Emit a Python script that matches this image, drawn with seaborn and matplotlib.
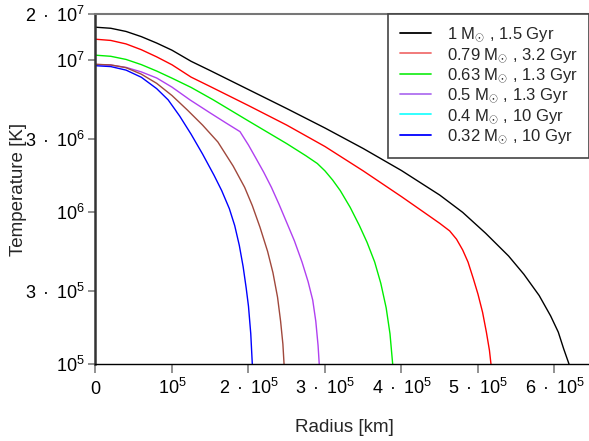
import pandas as pd
import matplotlib.pyplot as plt
import seaborn as sns
from matplotlib.lines import Line2D
from matplotlib.ticker import NullLocator

# Radius in km, temperature in K
r_1 = [0, 0.2e5, 0.4e5, 0.6e5, 0.8e5, 1.0e5, 1.25e5, 1.5e5, 2.0e5, 2.5e5, 3.0e5, 3.5e5, 4.0e5,
       4.5e5, 4.8e5, 5.1e5, 5.4e5, 5.6e5, 5.8e5, 5.95e5, 6.05e5, 6.12e5, 6.19e5]
t_1 = [1.637e7, 1.611e7, 1.535e7, 1.419e7, 1.288e7, 1.156e7, 9.77e6, 8.49e6, 6.37e6, 4.78e6, 3.56e6,
       2.61e6, 1.87e6, 1.29e6, 9.93e5, 7.24e5, 5.13e5, 3.89e5, 2.82e5, 2.07e5, 1.62e5, 1.26e5, 1.0e5]

r_079 = [0, 0.2e5, 0.4e5, 0.6e5, 0.8e5, 1.0e5, 1.25e5, 1.5e5, 2.0e5, 2.5e5, 3.0e5, 3.5e5, 4.0e5,
         4.3e5, 4.5e5, 4.63e5, 4.72e5, 4.8e5, 4.87e5, 4.94e5, 5.0e5, 5.06e5, 5.11e5, 5.15e5, 5.17e5]
t_079 = [1.365e7, 1.340e7, 1.271e7, 1.164e7, 1.045e7, 9.27e6, 7.69e6, 6.67e6, 5.00e6, 3.72e6, 2.69e6,
         1.86e6, 1.26e6, 9.89e5, 8.41e5, 7.50e5, 6.61e5, 5.62e5, 4.68e5, 3.63e5, 2.88e5, 2.19e5,
         1.62e5, 1.23e5, 1.0e5]

r_063 = [0, 0.2e5, 0.4e5, 0.6e5, 0.8e5, 1.0e5, 1.25e5, 1.54e5, 2.0e5, 2.5e5, 2.75e5, 2.9e5, 3.0e5,
         3.1e5, 3.2e5, 3.33e5, 3.45e5, 3.55e5, 3.65e5, 3.73e5, 3.8e5, 3.85e5, 3.885e5]
t_063 = [1.072e7, 1.054e7, 1.005e7, 9.29e6, 8.43e6, 7.57e6, 6.58e6, 5.45e6, 3.96e6, 2.81e6, 2.34e6,
         2.08e6, 1.86e6, 1.62e6, 1.38e6, 1.07e6, 8.13e5, 6.31e5, 4.68e5, 3.39e5, 2.34e5, 1.58e5, 1.0e5]

r_05 = [0, 0.2e5, 0.4e5, 0.6e5, 0.8e5, 1.0e5, 1.235e5, 1.5e5, 1.7e5, 1.889e5, 2.0e5, 2.1e5, 2.2e5,
        2.3e5, 2.4e5, 2.5e5, 2.6e5, 2.7e5, 2.78e5, 2.84e5, 2.88e5, 2.91e5, 2.925e5]
t_05 = [9.33e6, 9.23e6, 8.91e6, 8.32e6, 7.59e6, 6.61e6, 5.45e6, 4.47e6, 3.86e6, 3.37e6, 2.75e6, 2.24e6,
        1.82e6, 1.45e6, 1.12e6, 8.51e5, 6.46e5, 4.68e5, 3.47e5, 2.63e5, 1.91e5, 1.32e5, 1.0e5]

r_04 = [0, 0.2e5, 0.4e5, 0.6e5, 0.8e5, 1.0e5, 1.2e5, 1.4e5, 1.6e5, 1.8e5, 1.95e5, 2.05e5, 2.15e5,
        2.25e5, 2.32e5, 2.38e5, 2.42e5, 2.45e5, 2.465e5]
t_04 = [9.33e6, 9.25e6, 8.87e6, 8.04e6, 7.00e6, 5.82e6, 4.68e6, 3.72e6, 2.88e6, 2.00e6, 1.45e6, 1.10e6,
        7.94e5, 5.50e5, 3.98e5, 2.75e5, 1.91e5, 1.35e5, 1.0e5]

r_032 = [0, 0.2e5, 0.4e5, 0.6e5, 0.8e5, 0.95e5, 1.1e5, 1.25e5, 1.4e5, 1.55e5, 1.65e5, 1.75e5, 1.82e5,
         1.88e5, 1.93e5, 1.97e5, 2.0e5, 2.03e5, 2.05e5]
t_032 = [9.14e6, 9.02e6, 8.55e6, 7.67e6, 6.46e6, 5.45e6, 4.27e6, 3.24e6, 2.40e6, 1.74e6, 1.38e6, 1.05e6,
         8.13e5, 6.03e5, 4.37e5, 3.16e5, 2.40e5, 1.58e5, 1.0e5]

labels = [r'1 M$_{\odot}$ , 1.5 Gyr', r'0.79 M$_{\odot}$ , 3.2 Gyr', r'0.63 M$_{\odot}$ , 1.3 Gyr',
          r'0.5 M$_{\odot}$ , 1.3 Gyr', r'0.4 M$_{\odot}$ , 10 Gyr', r'0.32 M$_{\odot}$ , 10 Gyr']
radii = [r_1, r_079, r_063, r_05, r_04, r_032]
temps = [t_1, t_079, t_063, t_05, t_04, t_032]

curve_colors = ['black', '#ff0000', '#00ee00', '#b040f0', '#a0483c', '#0000ff']
legend_colors = ['black', '#f07070', '#22ee22', '#b070f0', '#22ffff', '#0000ff']

xticks = [0, 1e5, 2e5, 3e5, 4e5, 5e5, 6e5]
xtick_labels = ['0', r'10$^{5}$', r'2$\,$ · $\,$10$^{5}$', r'3$\,$ · $\,$10$^{5}$', r'4$\,$ · $\,$10$^{5}$',
                r'5$\,$ · $\,$10$^{5}$', r'6$\,$ · $\,$10$^{5}$']
yticks = [1e5, 3e5, 1e6, 3e6, 1e7, 2e7]
ytick_labels = [r'10$^{5}$', r'3$\,$ · $\,$10$^{5}$', r'10$^{6}$', r'3$\,$ · $\,$10$^{6}$', r'10$^{7}$',
                r'2$\,$ · $\,$10$^{7}$']

rows = []
for lab, rr, tt in zip(labels, radii, temps):
    for x, y in zip(rr, tt):
        rows.append({'star': lab, 'radius': x, 'temperature': y})
df = pd.DataFrame(rows)

sns.set_style('ticks')
plt.rcParams['font.family'] = ['Liberation Sans', 'DejaVu Sans']
plt.rcParams['mathtext.fontset'] = 'custom'
plt.rcParams['mathtext.rm'] = 'Liberation Sans'
plt.rcParams['mathtext.it'] = 'Liberation Sans:italic'
plt.rcParams['mathtext.bf'] = 'Liberation Sans:bold'

fig = plt.figure(figsize=(5.89, 4.41), dpi=100)
ax = fig.add_axes([0.1621, 0.1746, 0.8442, 0.7937])

sns.lineplot(data=df, x='radius', y='temperature', hue='star', palette=curve_colors,
             estimator=None, sort=False, legend=False, linewidth=1.0, ax=ax)

ax.set_yscale('log')
ax.set_xlim(0, 6.5e5)
ax.set_ylim(1e5, 2e7)
ax.set_xticks(xticks)
ax.set_xticklabels(xtick_labels)
ax.set_yticks(yticks)
ax.set_yticklabels(ytick_labels)
ax.yaxis.set_minor_locator(NullLocator())
ax.tick_params(axis='x', direction='out', length=6.5, width=1.3, color='#888888',
               labelsize=13, pad=15, labelcolor='black')
ax.tick_params(axis='y', direction='out', length=5, width=1.3, color='#888888',
               labelsize=13, pad=3, labelcolor='black')
for lab in ax.get_xticklabels():
    lab.set_verticalalignment('baseline')

ax.spines['left'].set_color('#333333')
ax.spines['left'].set_linewidth(1.8)
ax.spines['bottom'].set_color('black')
ax.spines['bottom'].set_linewidth(1.0)
ax.spines['top'].set_visible(True)
ax.spines['top'].set_color('#777777')
ax.spines['top'].set_linewidth(1.5)
ax.spines['right'].set_visible(False)

ax.set_xlabel('Radius [km]', fontsize=13.5)
ax.set_ylabel('Temperature [K]', fontsize=13.5)
ax.xaxis.set_label_coords(0.5, -0.157)
ax.yaxis.set_label_coords(-0.138, 0.5)

handles = [Line2D([], [], color=c, lw=1.3) for c in legend_colors]
leg = ax.legend(handles, labels, loc='upper left', bbox_to_anchor=(388 / 589, 1 - 14 / 441),
                bbox_transform=fig.transFigure, frameon=True, fancybox=False, framealpha=1,
                edgecolor='#444444', borderaxespad=0, fontsize=12, handlelength=1.9,
                handletextpad=0.95, labelspacing=0.1, borderpad=0.7)
leg.get_frame().set_linewidth(1.2)

fig.savefig('out.png', dpi=100)
